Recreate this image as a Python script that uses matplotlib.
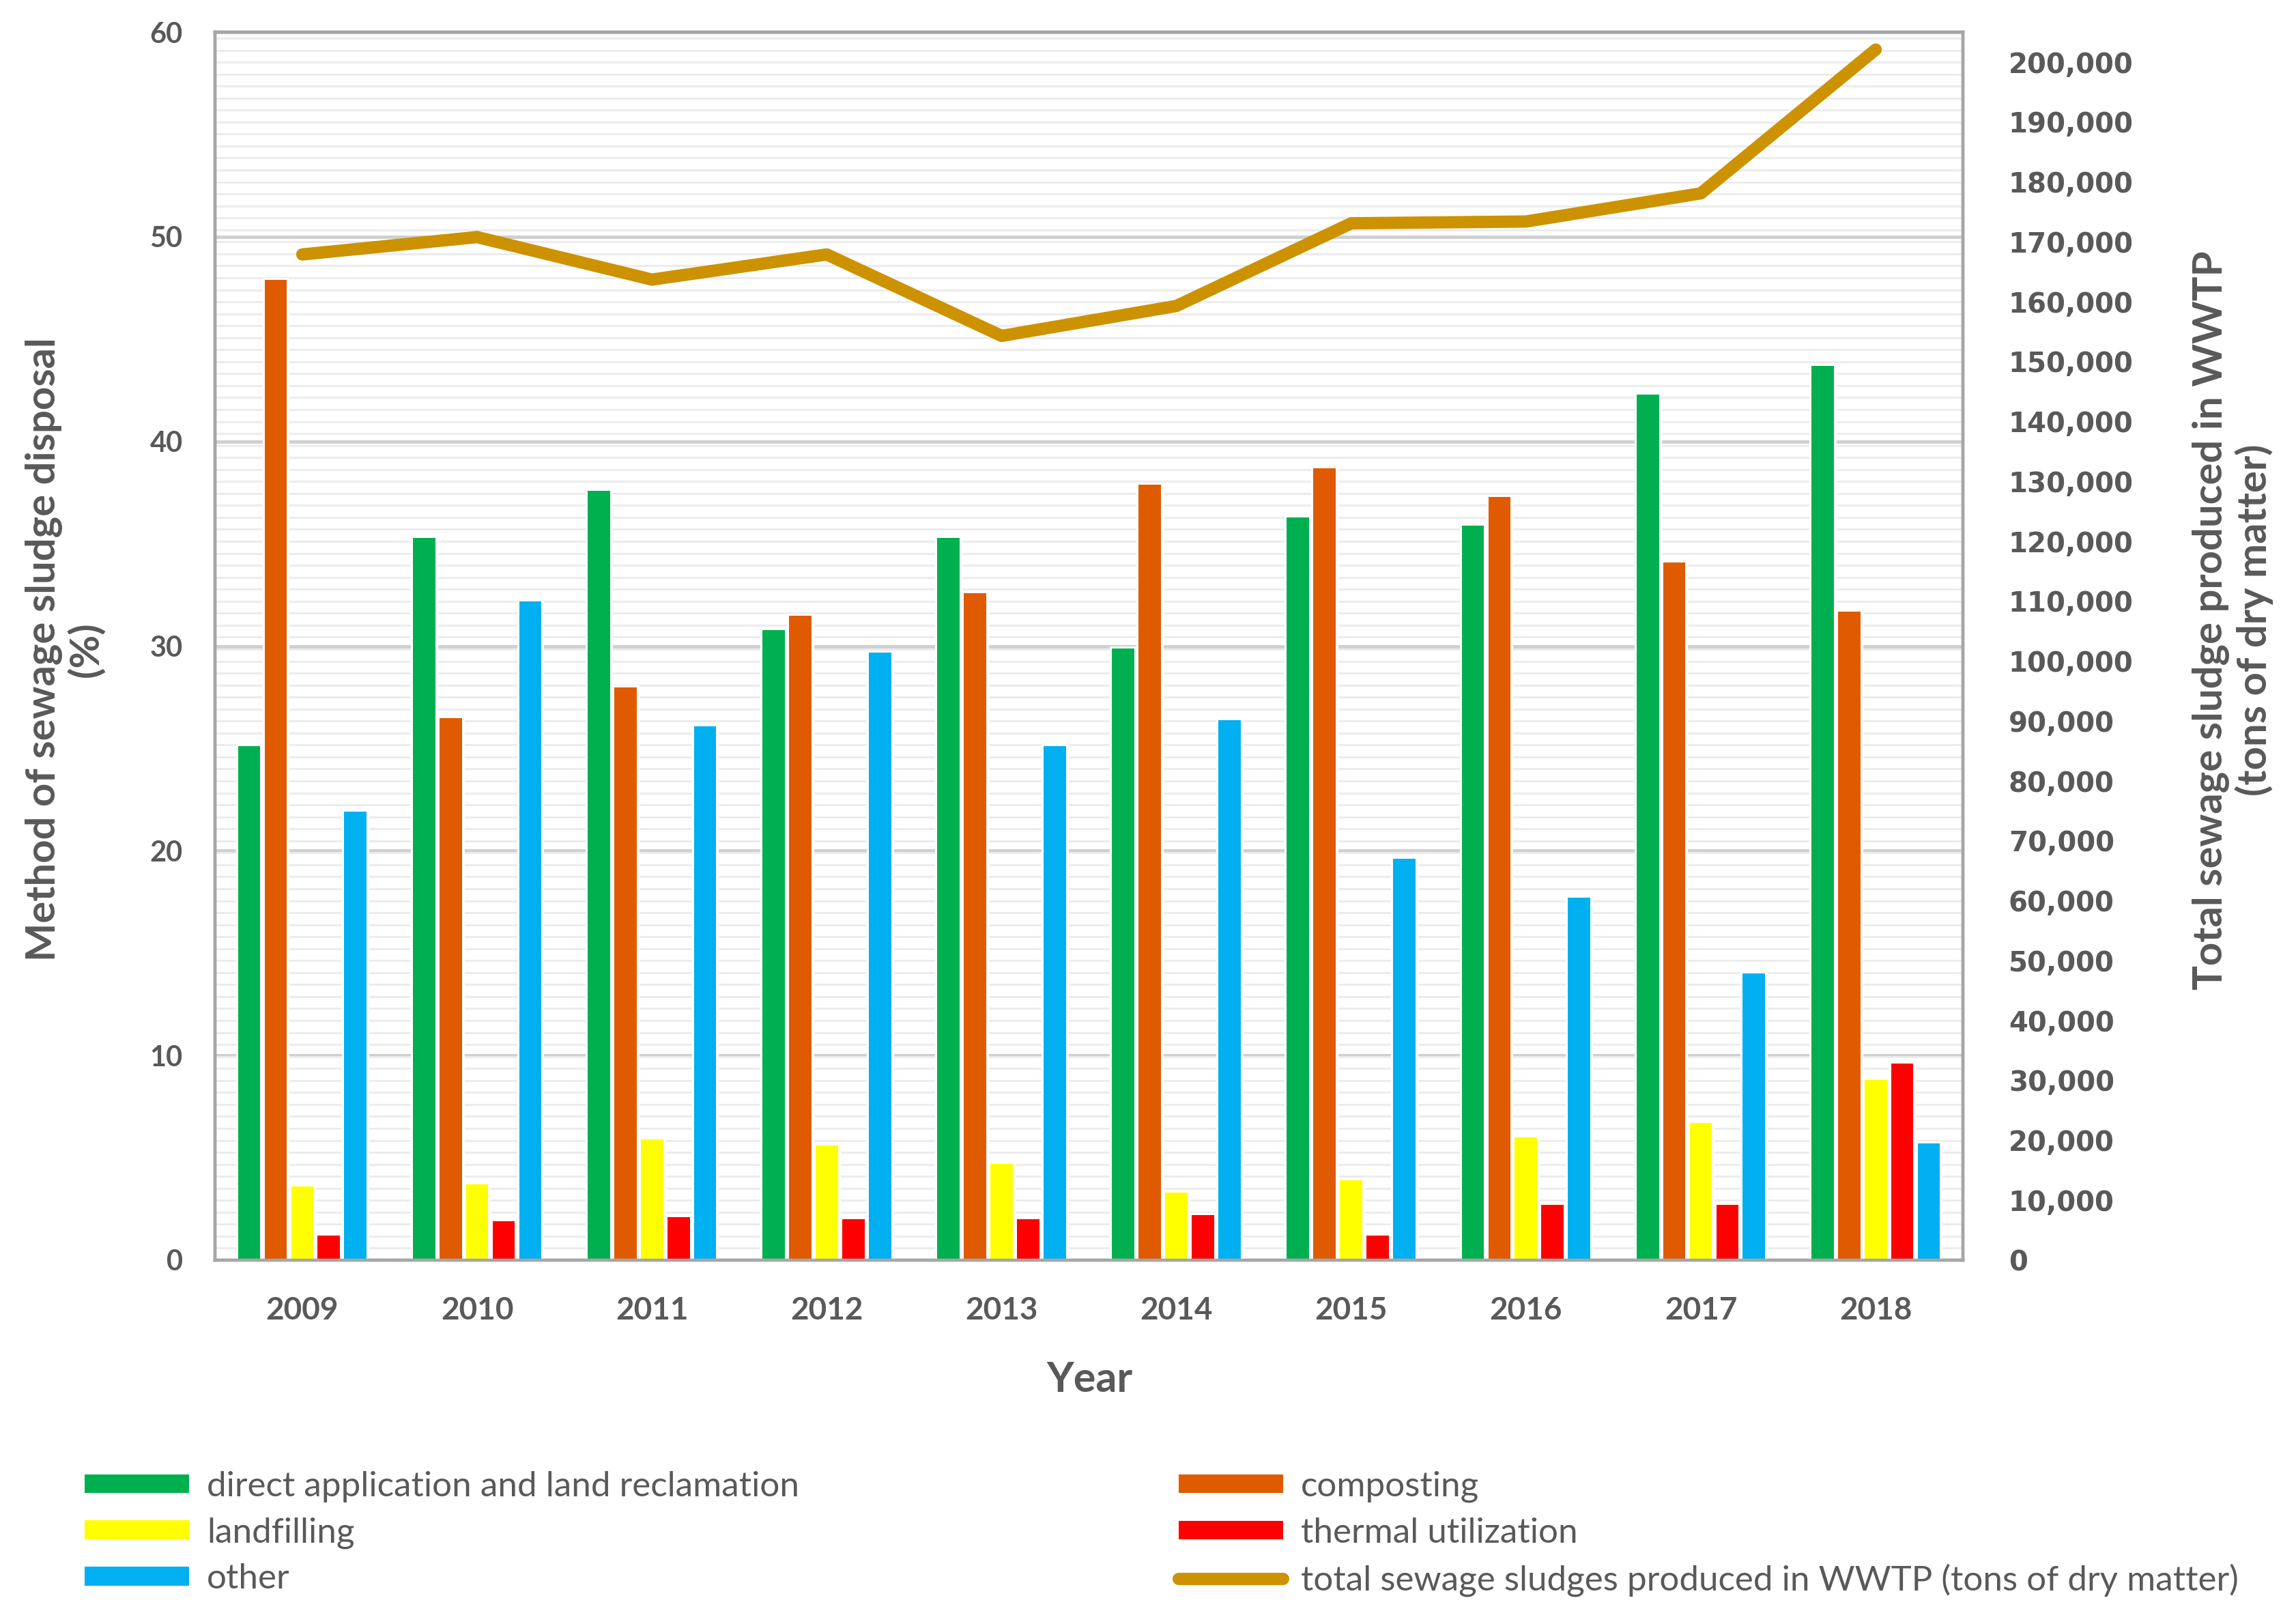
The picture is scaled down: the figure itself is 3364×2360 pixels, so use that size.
import numpy as np
import matplotlib
matplotlib.use("Agg")
import matplotlib.pyplot as plt
import matplotlib.patheffects as pe
from matplotlib.ticker import FixedLocator, FuncFormatter

plt.rcParams['font.family'] = ['Lato', 'DejaVu Sans']

years = ["2009", "2010", "2011", "2012", "2013", "2014", "2015", "2016", "2017", "2018"]

# method of sewage sludge disposal (%)
direct_app = [25.1, 35.3, 37.6, 30.8, 35.3, 29.9, 36.3, 35.9, 42.3, 43.7]
composting = [47.9, 26.5, 28.0, 31.5, 32.6, 37.9, 38.7, 37.3, 34.1, 31.7]
landfilling = [3.6, 3.7, 5.9, 5.6, 4.7, 3.3, 3.9, 6.0, 6.7, 8.8]
thermal = [1.2, 1.9, 2.1, 2.0, 2.0, 2.2, 1.2, 2.7, 2.7, 9.6]
other = [21.9, 32.2, 26.1, 29.7, 25.1, 26.4, 19.6, 17.7, 14.0, 5.7]

# total sewage sludge produced in WWTP (tons of dry matter)
total = [167900, 170800, 163700, 167900, 154300, 159300, 173100, 173400, 178100, 202100]

series = [
    ("direct application and land reclamation", direct_app, "#00B050"),
    ("composting", composting, "#E05A00"),
    ("landfilling", landfilling, "#FFFF00"),
    ("thermal utilization", thermal, "#FF0000"),
    ("other", other, "#00B0F0"),
]
line_label = "total sewage sludges produced in WWTP (tons of dry matter)"
line_color = "#CC9200"
text_color = "#595959"

fig = plt.figure(figsize=(16.82, 11.8), dpi=200)
ax = fig.add_axes([0.0936, 0.2178, 0.7614, 0.7622])
ax2 = ax.twinx()

x = np.arange(len(years))
step = 0.152
width = 0.128
halo = [pe.Stroke(linewidth=2.5, foreground="white"), pe.Normal()]
bars = {}
for i, (name, vals, col) in enumerate(series):
    b = ax.bar(x + (i - 2) * step, vals, width, color=col, zorder=3)
    for p in b:
        p.set_path_effects(halo)
    bars[name] = b

ln, = ax2.plot(x, total, color=line_color, lw=6.5,
               solid_capstyle="round", solid_joinstyle="round", zorder=4)

ax.set_xlim(-0.5, 9.5)
ax.set_ylim(0, 60)
ax2.set_ylim(0, 205000)

ax.set_xticks(x)
ax.set_xticklabels(years, fontsize=16.5, fontweight="bold", color=text_color)
ax.set_yticks(np.arange(0, 61, 10))
ax.yaxis.set_minor_locator(FixedLocator(np.arange(0, 205001, 2000) * 60 / 205000))
ax.tick_params(axis="y", which="both", length=0, pad=17, labelsize=15, labelcolor=text_color)
ax.tick_params(axis="x", length=0, pad=19)
for t in ax.get_yticklabels():
    t.set_fontweight("bold")

ax.set_axisbelow(True)
ax.grid(which="minor", axis="y", color="#ebebeb", lw=1.0)
ax.grid(which="major", axis="y", color="#d0d0d0", lw=1.8)

ax2.set_yticks(np.arange(0, 200001, 10000))
ax2.yaxis.set_major_formatter(FuncFormatter(lambda v, p: f"{int(v):,}"))
ax2.tick_params(axis="y", length=0, pad=24, labelsize=14.5, labelcolor=text_color)
for t in ax2.get_yticklabels():
    t.set_fontfamily("DejaVu Sans")
    t.set_fontweight("bold")

for a in (ax, ax2):
    for s in a.spines.values():
        s.set_color("#a6a6a6")
        s.set_linewidth(1.6)

fig.text(0.0285, 0.597, "Method of sewage sludge disposal\n(%)", rotation=90,
         ha="center", va="center", multialignment="center",
         fontsize=21.5, fontweight="bold", color=text_color, linespacing=1.15)
fig.text(0.9724, 0.615, "Total sewage sludge produced in WWTP\n(tons of dry matter)", rotation=90,
         ha="center", va="center", multialignment="center",
         fontsize=21.5, fontweight="bold", color=text_color, linespacing=1.15)
fig.text(0.4745, 0.1436, "Year", ha="center", va="center",
         fontsize=22, fontweight="bold", color=text_color)

leg_kw = dict(loc="upper left", frameon=False, fontsize=18.4, labelcolor=text_color,
              handlelength=3.0, handleheight=0.45, handletextpad=0.5,
              labelspacing=0.42, borderpad=0, borderaxespad=0)
names = [s[0] for s in series]
fig.legend([bars[names[0]], bars[names[2]], bars[names[4]]],
           [names[0], names[2], names[4]],
           bbox_to_anchor=(0.0369, 0.087), **leg_kw)
fig.legend([bars[names[1]], bars[names[3]], ln],
           [names[1], names[3], line_label],
           bbox_to_anchor=(0.5134, 0.087), **leg_kw)

fig.savefig("out.png", dpi=200, facecolor="white")
